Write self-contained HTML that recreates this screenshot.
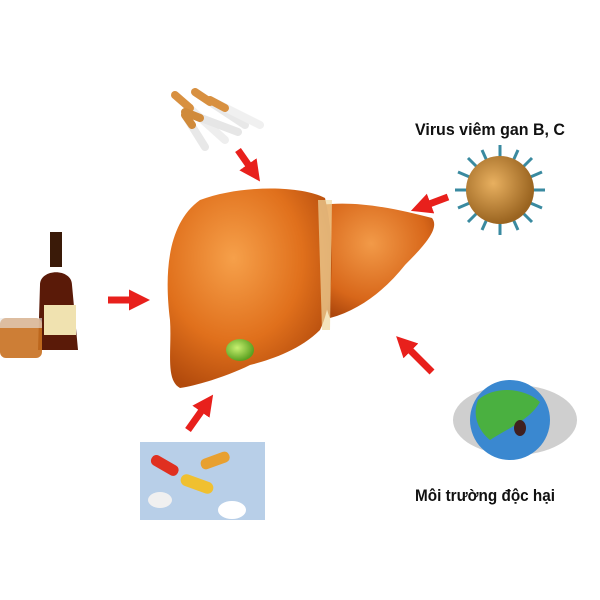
<!DOCTYPE html>
<html><head><meta charset="utf-8"><style>
html,body{margin:0;padding:0;background:#fff;width:600px;height:600px;overflow:hidden}
</style></head><body>
<svg width="600" height="600" viewBox="0 0 600 600" xmlns="http://www.w3.org/2000/svg">
<defs>
<radialGradient id="lv" cx="0.4" cy="0.35" r="0.7">
<stop offset="0" stop-color="#f6a04a"/><stop offset="0.6" stop-color="#e0701c"/><stop offset="1" stop-color="#b24a0c"/>
</radialGradient>
<radialGradient id="lv2" cx="0.45" cy="0.35" r="0.7">
<stop offset="0" stop-color="#f29a48"/><stop offset="0.7" stop-color="#d8671a"/><stop offset="1" stop-color="#ad470c"/>
</radialGradient>
<radialGradient id="vr" cx="0.4" cy="0.4" r="0.6">
<stop offset="0" stop-color="#e8b060"/><stop offset="1" stop-color="#9a6420"/>
</radialGradient>
<radialGradient id="gb" cx="0.4" cy="0.4" r="0.6">
<stop offset="0" stop-color="#c8f070"/><stop offset="1" stop-color="#5aa020"/>
</radialGradient>
<marker id="ar" markerWidth="3" markerHeight="3" refX="1" refY="1.5" orient="auto"><path d="M0,0 L3,1.5 L0,3 z" fill="#e8201c"/></marker>
</defs>
<path d="M320,205 C360,200 400,210 432,218 C440,228 425,245 405,265 C385,290 360,310 330,318 C322,300 318,250 320,205 z" fill="url(#lv2)"/>
<path d="M200,200 C240,185 300,185 325,198 C335,240 335,300 320,330 C300,350 270,360 250,365 C230,375 200,385 180,388 C165,380 172,350 170,320 C165,280 165,225 200,200 z" fill="url(#lv)"/>
<path d="M318,200 L332,200 L330,330 L322,330 z" fill="#f0d9a0" opacity="0.7"/>
<ellipse cx="240" cy="350" rx="14" ry="11" fill="url(#gb)"/>
<g stroke-linecap="round">
<line x1="175" y1="95" x2="225" y2="140" stroke="#eee" stroke-width="8"/>
<line x1="195" y1="92" x2="245" y2="125" stroke="#e8e8e8" stroke-width="8"/>
<line x1="210" y1="100" x2="260" y2="125" stroke="#f0f0f0" stroke-width="8"/>
<line x1="185" y1="112" x2="238" y2="132" stroke="#e6e6e6" stroke-width="8"/>
<line x1="185" y1="115" x2="205" y2="147" stroke="#e8e8e8" stroke-width="8"/>
<line x1="175" y1="95" x2="190" y2="108" stroke="#d89040" stroke-width="8"/>
<line x1="195" y1="92" x2="210" y2="102" stroke="#d89040" stroke-width="8"/>
<line x1="210" y1="100" x2="225" y2="108" stroke="#d89040" stroke-width="8"/>
<line x1="185" y1="112" x2="200" y2="118" stroke="#d08a3a" stroke-width="8"/>
<line x1="185" y1="115" x2="192" y2="125" stroke="#d08a3a" stroke-width="8"/>
</g>
<rect x="50" y="232" width="12" height="35" fill="#3a1a08"/>
<path d="M40,285 C40,268 72,268 72,285 L78,350 L38,350 z" fill="#5a1a08"/>
<rect x="44" y="305" width="32" height="30" fill="#f0e2b0"/>
<rect x="0" y="318" width="42" height="40" rx="6" fill="#c87020" opacity="0.9"/>
<rect x="0" y="318" width="42" height="10" fill="#e8e8e8" opacity="0.6"/>
<g stroke="#3a8aa0" stroke-width="3">
<line x1="455" y1="190" x2="545" y2="190"/><line x1="500" y1="145" x2="500" y2="235"/>
<line x1="468" y1="158" x2="532" y2="222"/><line x1="532" y1="158" x2="468" y2="222"/>
<line x1="458" y1="172" x2="542" y2="208"/><line x1="458" y1="208" x2="542" y2="172"/>
<line x1="482" y1="150" x2="518" y2="230"/><line x1="518" y1="150" x2="482" y2="230"/>
</g>
<circle cx="500" cy="190" r="34" fill="url(#vr)"/>
<ellipse cx="515" cy="420" rx="62" ry="35" fill="#cfcfcf"/>
<circle cx="510" cy="420" r="40" fill="#3a88d0"/>
<path d="M478,400 C495,385 525,388 540,402 C530,420 505,430 490,440 C478,430 472,415 478,400z" fill="#4ab040"/>
<ellipse cx="520" cy="428" rx="6" ry="8" fill="#402020"/>
<rect x="140" y="442" width="125" height="78" fill="#b8cfe8"/>
<rect x="150" y="460" width="30" height="11" rx="5" fill="#e03020" transform="rotate(30 165 465)"/>
<rect x="180" y="478" width="34" height="12" rx="6" fill="#f0c030" transform="rotate(20 197 484)"/>
<rect x="200" y="455" width="30" height="11" rx="5" fill="#e8a030" transform="rotate(-20 215 460)"/>
<ellipse cx="232" cy="510" rx="14" ry="9" fill="#fff"/>
<ellipse cx="160" cy="500" rx="12" ry="8" fill="#f0f0f0"/>
<g stroke="#e8201c" stroke-width="7" marker-end="url(#ar)">
<line x1="238" y1="150" x2="252" y2="170"/>
<line x1="108" y1="300" x2="136" y2="300"/>
<line x1="448" y1="197" x2="424" y2="206"/>
<line x1="432" y1="372" x2="406" y2="346"/>
<line x1="188" y1="430" x2="205" y2="406"/>
</g>
<text x="415" y="135" font-family="Liberation Sans, sans-serif" font-weight="bold" font-size="17" textLength="150" lengthAdjust="spacingAndGlyphs" fill="#111">Virus viêm gan B, C</text>
<text x="415" y="501" font-family="Liberation Sans, sans-serif" font-weight="bold" font-size="17" textLength="140" lengthAdjust="spacingAndGlyphs" fill="#111">Môi trường độc hại</text>
</svg>
</body></html>
